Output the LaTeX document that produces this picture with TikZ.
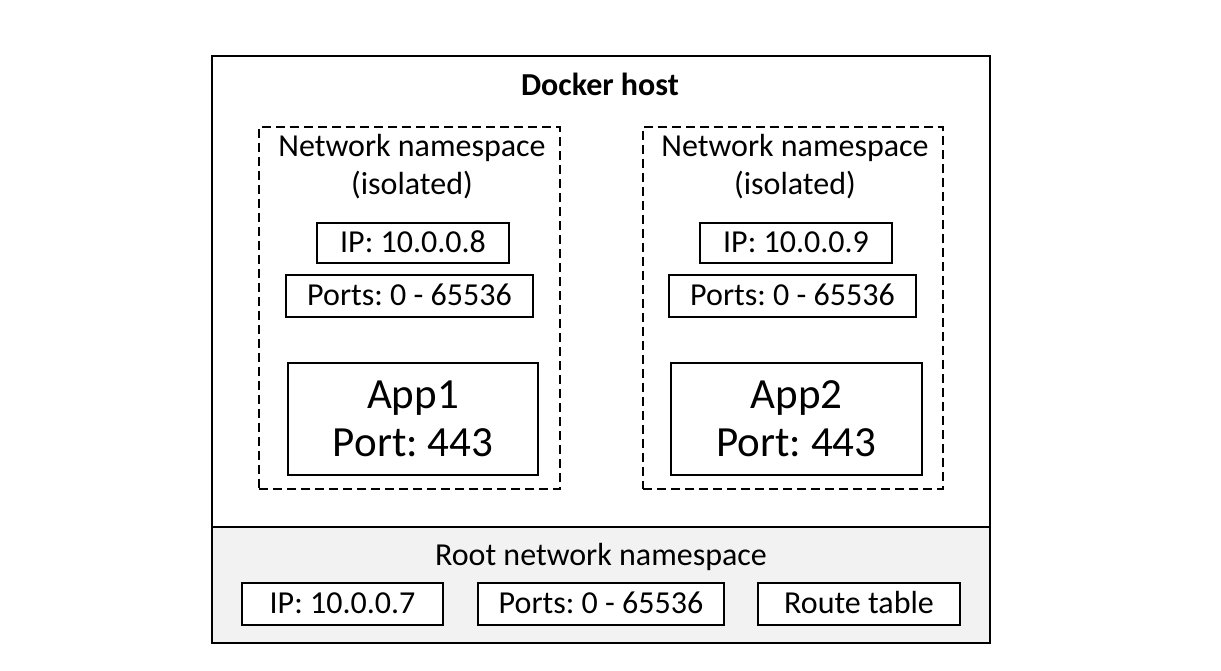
\documentclass[tikz,border=0pt]{standalone}
\usepackage{fontspec}
\setmainfont{Carlito}
\begin{document}
\frenchspacing
\begin{tikzpicture}[x=0.5pt,y=-0.5pt,
  nfont/.style={font=\fontsize{16}{19}\selectfont},
  afont/.style={font=\fontsize{21.5}{24}\selectfont},
  sbox/.style={draw, line width=0.75pt, inner sep=0pt, nfont, text height=12.2pt, text depth=2.5pt},
  abox/.style={draw, line width=0.75pt, inner sep=0pt, afont, align=center},
  dbox/.style={draw, line width=1pt, dash pattern=on 4.5pt off 2.5pt, inner sep=0pt},
  lbl/.style={inner sep=0pt, nfont, align=center}]
\useasboundingbox (0,0) rectangle (1221,670);
% root region fill and outer frame
\node[fill={rgb,255:red,242;green,242;blue,242}, minimum width=389pt, minimum height=58pt, inner sep=0pt] (root) at (601,585) {};
\node[draw, line width=1.1pt, minimum width=389pt, minimum height=293.5pt, inner sep=0pt] (host) at (601,349.5) {};
\draw[line width=1.1pt] (root.north west) -- (root.north east);
\node[lbl, font=\fontsize{16}{19}\selectfont\bfseries] (hosttitle) at (600,84) {Docker host};
% namespaces
\node[dbox, minimum width=150.5pt, minimum height=181pt] (ns1) at (409.5,308) {};
\node[dbox, minimum width=150pt, minimum height=181pt] (ns2) at (793,308) {};
\node[lbl] (ns1t) at (412,167) {Network namespace\\(isolated)};
\node[lbl] (ns2t) at (795,167) {Network namespace\\(isolated)};
\node[sbox, minimum width=96pt, minimum height=20pt] (ip1) at (413,243) {IP: 10.0.0.8};
\node[sbox, minimum width=123.5pt, minimum height=21pt] (ports1) at (409.5,296) {Ports: 0 - 65536};
\node[sbox, minimum width=96pt, minimum height=20pt] (ip2) at (796,243) {IP: 10.0.0.9};
\node[sbox, minimum width=123.5pt, minimum height=21pt] (ports2) at (792.5,296) {Ports: 0 - 65536};
\node[abox, minimum width=125pt, minimum height=56pt] (app1) at (413,419) {App1\\Port: 443};
\node[abox, minimum width=125.5pt, minimum height=56pt] (app2) at (796.5,419) {App2\\Port: 443};
% root namespace
\node[lbl] (roott) at (601,557) {Root network namespace};
\node[sbox, fill=white, minimum width=100.5pt, minimum height=21pt] (rip) at (342.5,604) {IP: 10.0.0.7};
\node[sbox, fill=white, minimum width=123pt, minimum height=21pt] (rports) at (601,604) {Ports: 0 - 65536};
\node[sbox, fill=white, minimum width=101pt, minimum height=21pt] (rtab) at (859,604) {Route table};
\end{tikzpicture}
\end{document}
